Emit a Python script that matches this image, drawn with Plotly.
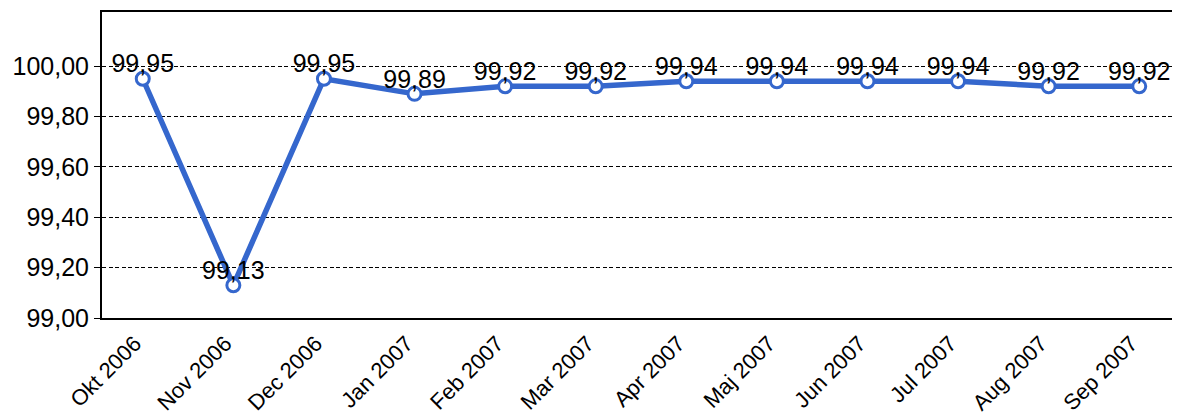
import plotly.graph_objects as go

categories = ["Okt 2006", "Nov 2006", "Dec 2006", "Jan 2007", "Feb 2007", "Mar 2007",
              "Apr 2007", "Maj 2007", "Jun 2007", "Jul 2007", "Aug 2007", "Sep 2007"]
values = [99.95, 99.13, 99.95, 99.89, 99.92, 99.92, 99.94, 99.94, 99.94, 99.94, 99.92, 99.92]
ytick_vals = [99.0, 99.2, 99.4, 99.6, 99.8, 100.0]

xs = list(range(len(categories)))
blue = "#3567cd"

fig = go.Figure()
fig.add_trace(go.Scatter(
    x=xs, y=values,
    mode="lines+markers",
    line=dict(color=blue, width=5.5),
    marker=dict(symbol="circle", size=13, color="white",
                line=dict(color=blue, width=3)),
    cliponaxis=False,
    showlegend=False,
    hoverinfo="skip",
))
fig.add_trace(go.Scatter(
    x=xs, y=values,
    mode="text",
    text=[f"{v:.2f}".replace(".", ",") for v in values],
    textposition="top center",
    textfont=dict(family="Liberation Sans, Arial", size=25, color="black"),
    cliponaxis=False,
    showlegend=False,
))

fig.update_layout(
    width=1172, height=407,
    margin=dict(l=94, r=0, t=4, b=89),
    paper_bgcolor="white", plot_bgcolor="white",
    separators=",.",
    font=dict(family="Liberation Sans, Arial", color="black"),
)
fig.update_xaxes(
    tickmode="array", tickvals=xs, ticktext=categories,
    range=[-0.45, 11.45], tickangle=-45,
    tickfont=dict(size=22), showgrid=False,
    showline=True, linecolor="black", linewidth=2, mirror=True,
    ticks="", zeroline=False, ticklabelshift=-8, ticklabelstandoff=2,
)
fig.update_yaxes(
    range=[99.0, 100.215], tickvals=ytick_vals, tickformat=".2f",
    tickfont=dict(size=25),
    showgrid=True, gridcolor="black", gridwidth=1, griddash="4px,2.5px",
    showline=True, linecolor="black", linewidth=2,
    ticks="outside", ticklen=6, tickcolor="black", zeroline=False,
)

fig.write_html("out.html")
